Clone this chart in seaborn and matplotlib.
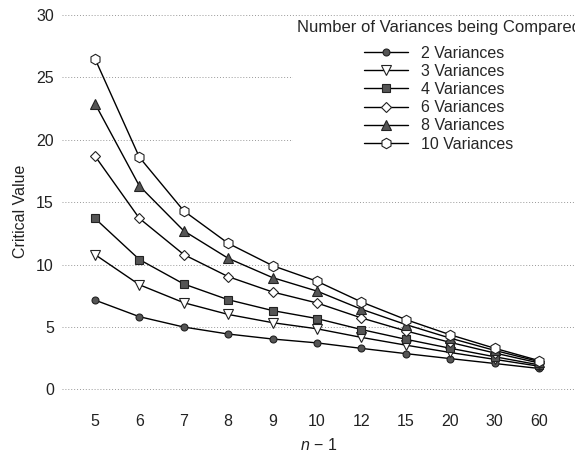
import numpy as np
import pandas as pd
import matplotlib
matplotlib.use('Agg')
import matplotlib.pyplot as plt
import seaborn as sns

sns.set_style('white')
plt.rcParams['font.family'] = ['Liberation Sans', 'DejaVu Sans']
plt.rcParams['mathtext.fontset'] = 'custom'
plt.rcParams['mathtext.it'] = 'Liberation Sans:italic'
plt.rcParams['mathtext.rm'] = 'Liberation Sans'

# n - 1 categories
df_labels = ['5', '6', '7', '8', '9', '10', '12', '15', '20', '30', '60']

# critical values for each number of variances compared
k2 = [7.15, 5.82, 4.99, 4.43, 4.03, 3.72, 3.28, 2.86, 2.46, 2.07, 1.67]
k3 = [10.8, 8.38, 6.94, 6.00, 5.34, 4.85, 4.16, 3.54, 2.95, 2.40, 1.85]
k4 = [13.7, 10.4, 8.44, 7.18, 6.31, 5.67, 4.79, 4.01, 3.29, 2.61, 1.96]
k6 = [18.7, 13.7, 10.8, 9.03, 7.80, 6.92, 5.72, 4.68, 3.76, 2.91, 2.11]
k8 = [22.9, 16.3, 12.7, 10.5, 8.95, 7.87, 6.42, 5.19, 4.10, 3.12, 2.22]
k10 = [26.5, 18.6, 14.3, 11.7, 9.91, 8.66, 7.00, 5.59, 4.37, 3.29, 2.30]

series_names = ['2 Variances', '3 Variances', '4 Variances',
                '6 Variances', '8 Variances', '10 Variances']
series_vals = [k2, k3, k4, k6, k8, k10]

# marker, fill, size
styles = [('o', '#555555', 5),
          ('v', 'white', 7),
          ('s', '#555555', 5.5),
          ('D', 'white', 5.5),
          ('^', '#555555', 7),
          ('h', 'white', 7.5)]

fig = plt.figure(figsize=(5.75, 4.53), dpi=100)
ax = fig.add_axes([0.108, 0.0993, 0.892, 0.8676])

for name, vals, (m, fc, ms) in zip(series_names, series_vals, styles):
    d = pd.DataFrame({'x': df_labels, 'y': vals})
    sns.lineplot(data=d, x='x', y='y', ax=ax, color='black', lw=1,
                 marker=m, markerfacecolor=fc, markeredgecolor='#222222',
                 markeredgewidth=0.8, markersize=ms, label=name, sort=False)

ax.set_ylim(-1.5, 30)
ax.set_xlim(-0.74, 10.81)
ax.set_yticks([0, 5, 10, 15, 20, 25, 30])
ax.grid(axis='y', linestyle=(0, (1, 2)), color='#999999', lw=0.7)
ax.grid(axis='x', visible=False)
for s in ax.spines.values():
    s.set_visible(False)
ax.tick_params(axis='both', length=0, labelsize=11.5, colors='#222222')
ax.tick_params(axis='y', pad=6)
ax.tick_params(axis='x', pad=4)

ax.set_ylabel('Critical Value', fontsize=11.5, color='#222222', labelpad=6)
ax.set_xlabel('$n$ − 1', fontsize=11.5, color='#222222', labelpad=6)

leg = ax.legend(title='Number of Variances being Compared', loc='upper center',
                bbox_to_anchor=(0.734, 1.015), frameon=True, framealpha=1,
                edgecolor='white', facecolor='white', fontsize=11.5,
                title_fontsize=12, handlelength=2.8, handletextpad=0.8,
                labelspacing=0.2, borderpad=0.2, fancybox=False)
leg.get_frame().set_linewidth(0)
# a bit more room between the title and the entries
leg._legend_box.sep = 7.5

fig.savefig('out.png', dpi=100)
